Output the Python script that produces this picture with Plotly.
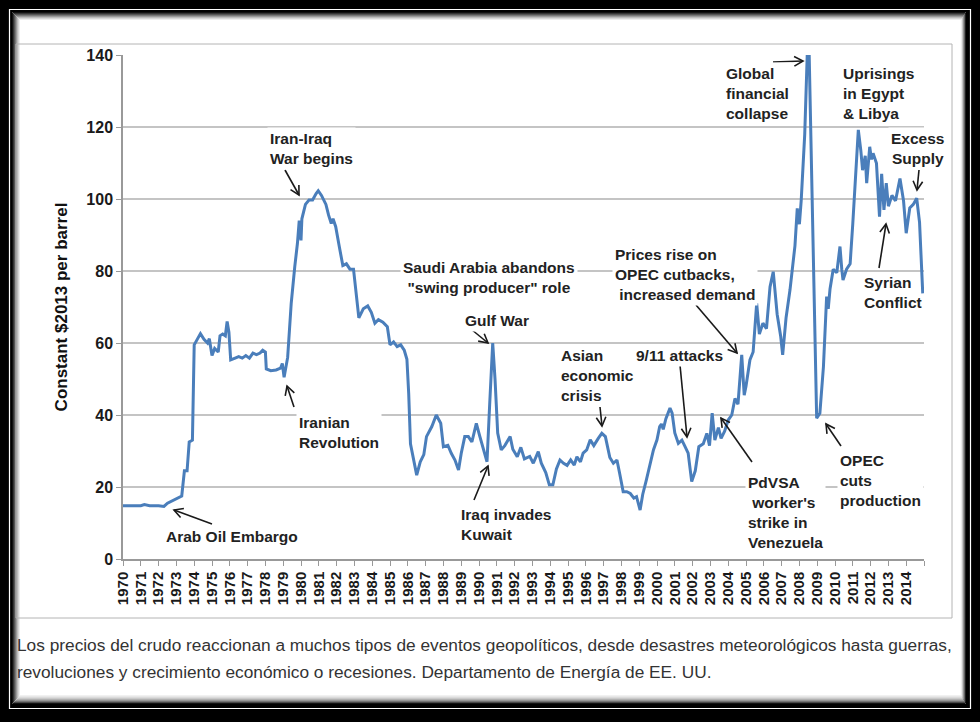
import math
import plotly.graph_objects as go

# ---------------- data ----------------
years = [1970.0, 1970.5, 1971.0, 1971.2, 1971.5, 1972.0, 1972.3, 1972.5, 1972.8, 1973.0,
         1973.3, 1973.45, 1973.6, 1973.72, 1973.9, 1974.0, 1974.15, 1974.35, 1974.55, 1974.75,
         1974.85, 1975.0, 1975.15, 1975.35, 1975.45, 1975.6, 1975.75, 1975.85, 1975.95, 1976.05,
         1976.3, 1976.5, 1976.7, 1976.9, 1977.1, 1977.3, 1977.5, 1977.7, 1977.85, 1978.0,
         1978.05, 1978.3, 1978.6, 1978.85, 1978.95, 1979.05, 1979.25, 1979.45, 1979.65, 1979.8,
         1979.9, 1980.0, 1980.05, 1980.25, 1980.45, 1980.65, 1980.85, 1980.97, 1981.15, 1981.4,
         1981.55, 1981.7, 1981.8, 1981.95, 1982.15, 1982.35, 1982.55, 1982.75, 1982.95, 1983.1,
         1983.25, 1983.5, 1983.75, 1983.95, 1984.15, 1984.35, 1984.6, 1984.85, 1985.0, 1985.2,
         1985.4, 1985.6, 1985.8, 1985.95, 1986.05, 1986.15, 1986.3, 1986.5, 1986.7, 1986.9,
         1987.05, 1987.35, 1987.6, 1987.85, 1988.0, 1988.25, 1988.45, 1988.65, 1988.85, 1989.0,
         1989.2, 1989.4, 1989.6, 1989.85, 1990.05, 1990.25, 1990.45, 1990.6, 1990.77, 1990.9,
         1991.05, 1991.25, 1991.45, 1991.75, 1991.9, 1992.15, 1992.35, 1992.55, 1992.85, 1993.05,
         1993.33, 1993.5, 1993.75, 1993.95, 1994.15, 1994.35, 1994.55, 1994.75, 1994.95, 1995.15,
         1995.35, 1995.5, 1995.7, 1995.85, 1996.05, 1996.25, 1996.45, 1996.7, 1996.9, 1997.1,
         1997.25, 1997.35, 1997.55, 1997.75, 1997.9, 1998.1, 1998.3, 1998.5, 1998.7, 1998.85,
         1999.05, 1999.2, 1999.4, 1999.6, 1999.8, 2000.0, 2000.15, 2000.25, 2000.35, 2000.5,
         2000.73, 2000.85, 2001.0, 2001.2, 2001.4, 2001.55, 2001.75, 2001.95, 2002.15, 2002.35,
         2002.6, 2002.8, 2002.95, 2003.1, 2003.25, 2003.45, 2003.6, 2003.8, 2004.0, 2004.2,
         2004.38, 2004.55, 2004.76, 2004.9, 2005.0, 2005.22, 2005.4, 2005.6, 2005.75, 2005.95,
         2006.15, 2006.35, 2006.53, 2006.75, 2006.95, 2007.06, 2007.25, 2007.47, 2007.6, 2007.75,
         2007.88, 2008.0, 2008.1, 2008.3, 2008.44, 2008.55, 2008.65, 2008.8, 2008.97, 2009.15,
         2009.35, 2009.53, 2009.62, 2009.72, 2009.9, 2010.1, 2010.28, 2010.38, 2010.45, 2010.65,
         2010.85, 2011.0, 2011.2, 2011.31, 2011.45, 2011.55, 2011.7, 2011.78, 2011.95, 2012.05,
         2012.14, 2012.33, 2012.5, 2012.62, 2012.75, 2012.88, 2013.0, 2013.2, 2013.4, 2013.65,
         2013.85, 2014.0, 2014.2, 2014.4, 2014.59, 2014.75, 2014.93]

prices = [14.8, 14.8, 14.8, 15.1, 14.8, 14.8, 14.6, 15.5, 16.3, 16.8,
          17.5, 24.5, 24.5, 32.5, 33.0, 59.5, 61.0, 62.6, 61.0, 60.0,
          61.2, 56.5, 58.5, 57.5, 62.0, 62.5, 62.0, 66.0, 63.0, 55.3,
          55.8, 56.2, 55.8, 56.5, 55.8, 57.2, 56.8, 57.2, 58.0, 57.5,
          52.8, 52.3, 52.5, 53.0, 54.3, 50.5, 56.0, 71.0, 81.2, 87.7,
          94.0, 88.5, 94.5, 98.5, 99.7, 99.7, 101.5, 102.3, 101.0, 98.5,
          95.5, 93.2, 94.5, 92.3, 86.8, 81.5, 82.0, 80.5, 80.5, 73.8,
          67.0, 69.5, 70.3, 68.5, 65.5, 66.5, 65.8, 64.5, 59.5, 60.3,
          59.0, 59.5, 58.0, 55.5, 46.0, 32.0, 28.5, 23.3, 27.0, 29.0,
          34.0, 36.8, 40.0, 37.7, 31.2, 31.6, 29.3, 27.5, 24.7, 29.3,
          34.0, 34.0, 32.5, 37.7, 34.0, 30.3, 27.0, 43.0, 60.0, 50.0,
          35.0, 30.3, 31.5, 34.0, 30.5, 28.4, 31.0, 27.8, 28.5, 26.6,
          29.8, 26.6, 24.0, 20.6, 20.6, 25.0, 27.5, 26.6, 26.0, 27.5,
          26.1, 28.4, 27.0, 29.4, 30.3, 33.1, 31.5, 33.5, 34.9, 34.0,
          30.3, 28.2, 26.6, 27.5, 23.8, 18.7, 18.7, 18.2, 16.9, 17.3,
          13.6, 18.0, 21.9, 26.6, 30.3, 33.1, 36.8, 37.5, 36.0, 39.0,
          41.9, 40.5, 35.0, 32.1, 33.0, 31.5, 29.4, 21.5, 24.5, 31.2,
          32.0, 34.9, 31.5, 40.5, 33.0, 36.5, 33.5, 35.5, 38.6, 40.0,
          44.6, 43.0, 56.7, 45.5, 48.0, 55.3, 57.5, 71.0, 62.5, 65.5,
          64.0, 75.6, 79.8, 68.0, 61.8, 56.7, 67.0, 74.7, 80.3, 87.0,
          97.4, 93.0, 99.5, 118.0, 140.0, 140.0, 116.0, 80.0, 39.1, 40.5,
          53.4, 72.9, 69.5, 75.0, 80.5, 79.5, 86.8, 80.5, 77.5, 80.5,
          82.0, 93.2, 109.0, 119.2, 113.5, 108.0, 112.0, 104.4, 114.5, 111.0,
          112.7, 109.9, 95.1, 107.0, 97.0, 104.4, 98.0, 101.0, 99.5, 105.7,
          99.5, 90.5, 97.5, 98.5, 100.2, 93.5, 73.8]

tick_years = list(range(1970, 2016))
tick_labels = [str(y) for y in range(1970, 2015)] + [""]
y_ticks = [0, 20, 40, 60, 80, 100, 120, 140]

events = [
    ("Arab Oil Embargo", 163, 536, "left"),
    ("Iranian<br>Revolution", 296, 432, "left"),
    ("Iran-Iraq<br>War begins", 267, 148, "left"),
    ("Saudi Arabia abandons<br>\"swing producer\" role", 400, 277, "center"),
    ("Gulf War", 462, 320, "left"),
    ("Iraq invades<br>Kuwait", 458, 524, "left"),
    ("Asian<br>economic<br>crisis", 558, 375, "left"),
    ("9/11 attacks", 633, 355, "left"),
    ("Prices rise on<br>OPEC cutbacks,<br> increased demand", 612, 274, "left"),
    ("PdVSA<br> worker's<br>strike in<br>Venezuela", 745, 512, "left"),
    ("Global<br>financial<br>collapse", 723, 94, "left"),
    ("Uprisings<br>in Egypt<br>&amp; Libya", 840, 94, "left"),
    ("Excess<br>Supply", 888, 148, "center"),
    ("Syrian<br>Conflict", 861, 292, "left"),
    ("OPEC<br>cuts<br>production", 837, 480, "left"),
]
arrows = [  # tail -> head, pixels
    (212, 524, 174, 510),
    (294, 407, 287, 386),
    (285, 170, 299, 195),
    (466, 325, 488, 343),
    (474, 500, 488, 466),
    (600, 407, 602, 426),
    (680, 365, 687, 437),
    (696, 305, 737, 353),
    (752, 462, 721, 418),
    (841, 446, 826, 424),
    (773, 62, 803, 61),
    (919, 170, 917, 190),
    (879, 268, 886, 224),
]

caption1 = ("Los precios del crudo reaccionan a muchos tipos de eventos geopolíticos, "
            "desde desastres meteorológicos hasta guerras,")
caption2 = "revoluciones y crecimiento económico o recesiones. Departamento de Energía de EE. UU."

# ---------------- layout helpers ----------------
W, H = 980, 722
PL, PR, PT, PB = 123, 924, 55, 559


def fx(xp):
    return (xp - PL) / (PR - PL)


def fy(yp):
    return (PB - yp) / (PB - PT)


fig = go.Figure()
fig.add_trace(go.Scatter(x=years, y=prices, mode="lines",
                         line=dict(color="#4a7ebb", width=3),
                         hoverinfo="skip", showlegend=False))

shapes = []


def rect(x0, y0, x1, y1, line=None, fill=None, width=1, layer="below"):
    d = dict(type="rect", xref="paper", yref="paper",
             x0=fx(x0), x1=fx(x1), y0=fy(y1), y1=fy(y0), layer=layer,
             line=dict(color=line if line else "rgba(0,0,0,0)", width=width if line else 0))
    if fill:
        d["fillcolor"] = fill
    shapes.append(d)


# frame: white hairline, white interior with inner shadow
rect(9.5, 9.5, 970.5, 708.5, line="white", width=1.2)
rect(12, 12, 966, 704, fill="white")
shadow = ["#111", "#333", "#555", "#777", "#999", "#bbb", "#d5d5d5", "#ececec"]
for i, c in enumerate(shadow):
    rect(12 + i + 0.5, 12 + i + 0.5, 966 - i * 0.6 - 0.5, 704 - i * 1.1 - 0.5, line=c, width=1)
# chart image border
rect(16, 44, 952, 618, line="#b4b4b4", width=1)

# arrows
for (x0, y0, x1, y1) in arrows:
    shapes.append(dict(type="line", xref="paper", yref="paper",
                       x0=fx(x0), y0=fy(y0), x1=fx(x1), y1=fy(y1),
                       line=dict(color="#1a1a1a", width=1.6), layer="above"))
    ang = math.atan2(y0 - y1, x0 - x1)
    L = 10
    pts = []
    for da in (0.5, -0.5):
        pts.append((x1 + L * math.cos(ang + da), y1 + L * math.sin(ang + da)))
    path = "M{},{} L{},{} L{},{}".format(fx(pts[0][0]), fy(pts[0][1]), fx(x1), fy(y1),
                                         fx(pts[1][0]), fy(pts[1][1]))
    shapes.append(dict(type="path", xref="paper", yref="paper", path=path,
                       line=dict(color="#1a1a1a", width=1.6), layer="above"))

annotations = []
for text, xl, yc, al in events:
    annotations.append(dict(
        text=text, xref="paper", yref="paper", x=fx(xl), y=fy(yc),
        xanchor="left", yanchor="middle", align=al, showarrow=False,
        font=dict(family="Liberation Sans, Arial", size=15.5, color="#222", weight="bold"),
        bgcolor=None if text.startswith("Syrian") else "white", borderpad=2))

for txt, yc in ((caption1, 645), (caption2, 672)):
    annotations.append(dict(
        text=txt, xref="paper", yref="paper", x=fx(15), y=fy(yc),
        xanchor="left", yanchor="middle", showarrow=False,
        font=dict(family="Liberation Sans, Arial", size=17.3, color="#333")))

fig.update_layout(
    width=W, height=H, autosize=False,
    margin=dict(l=PL, r=W - PR, t=PT, b=H - PB, pad=0),
    paper_bgcolor="black", plot_bgcolor="white",
    shapes=shapes, annotations=annotations,
    xaxis=dict(range=[1970, 2015], tickvals=tick_years, ticktext=tick_labels,
               tickangle=-90, ticks="outside", ticklen=5, tickcolor="#999",
               showline=True, linecolor="#999", linewidth=1.5, showgrid=False, zeroline=False,
               tickfont=dict(family="Liberation Sans, Arial", size=15, color="#1a1a1a", weight="bold")),
    yaxis=dict(range=[0, 140], tickvals=y_ticks, ticks="outside", ticklen=5, tickcolor="#999",
               showline=True, linecolor="#999", linewidth=1.5, showgrid=True,
               gridcolor="#c4c4c4", gridwidth=1.5, zeroline=False,
               tickfont=dict(family="Liberation Sans, Arial", size=16, color="#1a1a1a", weight="bold"),
               title=dict(text="Constant $2013 per barrel", standoff=14,
                          font=dict(family="Liberation Sans, Arial", size=17, color="#111",
                                    weight="bold"))),
)

fig.write_html("out.html", config={"displayModeBar": False},
               post_script="document.body.style.margin='0';document.body.style.background='black';")
